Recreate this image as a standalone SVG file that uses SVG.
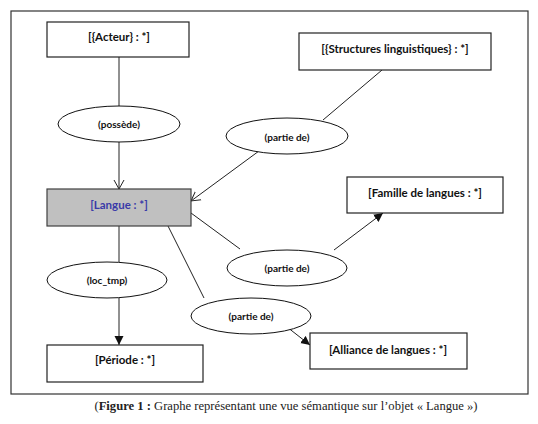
<svg xmlns="http://www.w3.org/2000/svg" width="538" height="424" viewBox="0 0 538 424">
<style>
.box{fill:#ffffff;stroke:#222;stroke-width:1.2}
.ell{fill:#ffffff;stroke:#111;stroke-width:1}
.lbl{font-family:Lato,"Open Sans","Liberation Sans",sans-serif;font-weight:bold;font-size:11.5px;fill:#111;text-anchor:middle;dominant-baseline:central}
.elbl{font-family:Lato,"Open Sans","Liberation Sans",sans-serif;font-weight:bold;font-size:10px;fill:#111;text-anchor:middle;dominant-baseline:central}
.ln{stroke:#222;stroke-width:1;fill:none}
.cap{font-family:"Liberation Serif","DejaVu Serif",serif;font-size:12.6px;fill:#222;text-anchor:middle}
</style>
<defs>
<marker id="open" markerWidth="12" markerHeight="12" refX="9" refY="5" orient="auto" markerUnits="userSpaceOnUse" viewBox="0 0 12 10">
<path d="M0,0 L9,5 L0,10" fill="none" stroke="#222" stroke-width="1"/>
</marker>
<marker id="fill" markerWidth="10" markerHeight="10" refX="9" refY="4.5" orient="auto" markerUnits="userSpaceOnUse" viewBox="0 0 10 9">
<path d="M0,0 L9,4.5 L0,9 Z" fill="#111"/>
</marker>
</defs>
<rect x="0" y="0" width="538" height="424" fill="#ffffff"/>
<rect x="11" y="11" width="517" height="383" fill="none" stroke="#333" stroke-width="1.2"/>

<g id="connectors">
<line class="ln" x1="119" y1="57" x2="119" y2="106"/>
<line class="ln" x1="119" y1="142" x2="119" y2="189" marker-end="url(#open)"/>
<line class="ln" x1="382" y1="70" x2="323" y2="120"/>
<line class="ln" x1="259" y1="151" x2="191" y2="201" marker-end="url(#open)"/>
<line class="ln" x1="191" y1="213" x2="240" y2="249"/>
<line class="ln" x1="334" y1="250" x2="383" y2="213" marker-end="url(#fill)"/>
<line class="ln" x1="168" y1="226" x2="204" y2="298"/>
<line class="ln" x1="287" y1="327" x2="310" y2="345" marker-end="url(#fill)"/>
<line class="ln" x1="119" y1="226" x2="119" y2="262"/>
<line class="ln" x1="119" y1="298" x2="119" y2="345" marker-end="url(#fill)"/>
</g>

<g id="acteur">
<rect class="box" x="47" y="22" width="142" height="35"/>
<text class="lbl" x="119" y="36">[{Acteur} : *]</text>
</g>
<g id="structures">
<rect class="box" x="299" y="33" width="192" height="37"/>
<text class="lbl" x="395" y="48">[{Structures linguistiques} : *]</text>
</g>
<g id="possede">
<ellipse class="ell" cx="119" cy="124" rx="61" ry="18"/>
<text class="elbl" x="119" y="124">(possède)</text>
</g>
<g id="partie1">
<ellipse class="ell" cx="287" cy="136" rx="61" ry="18"/>
<text class="elbl" x="287" y="137">(partie de)</text>
</g>
<g id="langue">
<rect x="47" y="189" width="144" height="37" fill="#c0c0c0" stroke="#404040" stroke-width="1.2"/>
<text class="lbl" x="119" y="204" style="fill:#3a3aa8">[Langue : *]</text>
</g>
<g id="famille">
<rect class="box" x="347" y="177" width="156" height="36"/>
<text class="lbl" x="425" y="192">[Famille de langues : *]</text>
</g>
<g id="partie2">
<ellipse class="ell" cx="287" cy="268" rx="60" ry="18"/>
<text class="elbl" x="287" y="268">(partie de)</text>
</g>
<g id="loctmp">
<ellipse class="ell" cx="107" cy="280" rx="60" ry="18"/>
<text class="elbl" x="107" y="280">(loc_tmp)</text>
</g>
<g id="partie3">
<ellipse class="ell" cx="251" cy="316" rx="60" ry="18"/>
<text class="elbl" x="251" y="316">(partie de)</text>
</g>
<g id="periode">
<rect class="box" x="47" y="345" width="156" height="37"/>
<text class="lbl" x="125" y="359">[Période : *]</text>
</g>
<g id="alliance">
<rect class="box" x="310" y="333" width="157" height="36"/>
<text class="lbl" x="388" y="349">[Alliance de langues : *]</text>
</g>

<text class="cap" x="286" y="410">(<tspan font-weight="bold">Figure 1 :</tspan> Graphe représentant une vue sémantique sur l’objet « Langue »)</text>
</svg>
